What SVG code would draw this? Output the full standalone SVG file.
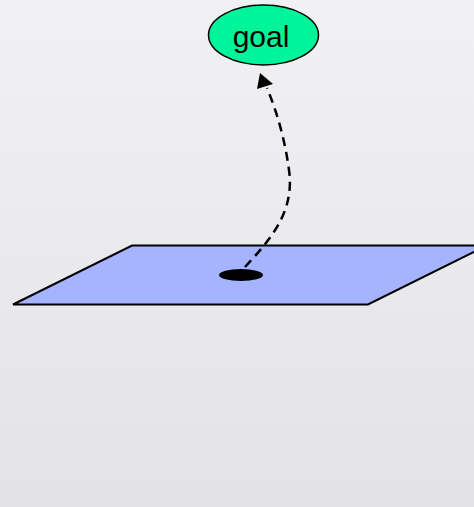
<svg xmlns="http://www.w3.org/2000/svg" width="474" height="507" viewBox="0 0 474 507">
<defs>
<linearGradient id="bg" x1="0" y1="0" x2="0" y2="1">
<stop offset="0" stop-color="#f1f1f3"/>
<stop offset="1" stop-color="#e3e2e6"/>
</linearGradient>
<style>
.plane{fill:#a6b4ff;stroke:#000;stroke-width:2}
.goal{fill:#00f59a;stroke:#000;stroke-width:1.5}
.lbl{font-family:"Liberation Sans",Arial,sans-serif;font-size:30px;fill:#000}
.edge{fill:none;stroke:#000;stroke-width:2.5;stroke-dasharray:9,6}
</style>
</defs>
<rect width="474" height="507" fill="url(#bg)"/>
<g id="plane">
<polygon class="plane" points="13,304.5 132,245.5 487,245.5 368,304.5"/>
<ellipse cx="241" cy="275" rx="22" ry="6" fill="#000"/>
</g>
<g id="goal">
<ellipse class="goal" cx="263.5" cy="35" rx="55" ry="30"/>
<text class="lbl" x="261" y="47" text-anchor="middle">goal</text>
</g>
<g id="connectors">
<path class="edge" d="M245,267 C270,240 295,212 289,170 C285,140 277,112 267,88"/>
<path d="M260,73 L273,84 L257,89 Z" fill="#000"/>
</g>
</svg>
